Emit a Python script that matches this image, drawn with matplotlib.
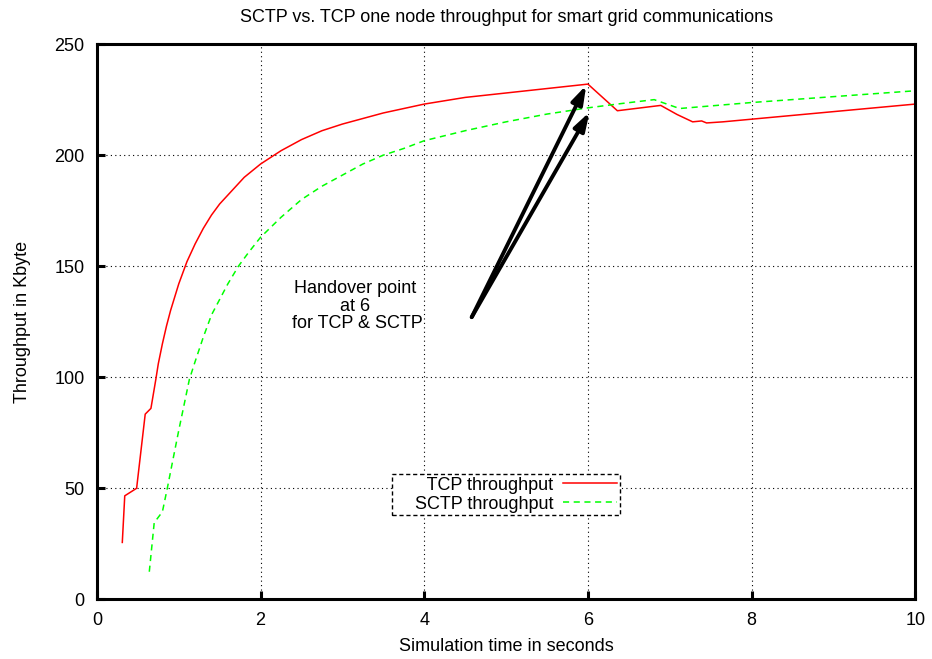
import matplotlib
matplotlib.use('Agg')
import matplotlib.pyplot as plt

plt.rcParams['font.family'] = ['Liberation Sans', 'DejaVu Sans']

# TCP throughput
tcp_t = [0.31, 0.34, 0.485, 0.59, 0.66, 0.72, 0.75, 0.8, 0.85, 0.9, 0.95, 1.0,
         1.1, 1.2, 1.3, 1.4, 1.5, 1.6, 1.8, 2.0, 2.25, 2.5, 2.75, 3.0, 3.5,
         4.0, 4.5, 5.0, 5.5, 6.0, 6.36, 6.89, 7.09, 7.28, 7.39, 7.45, 7.65, 10.0]
tcp_kb = [25.5, 46.5, 49.9, 83.3, 85.9, 99, 106, 115, 123, 130, 136, 142,
          152, 160, 167, 173, 178, 182, 190, 196, 202, 207, 211, 214, 219,
          223, 226, 228, 230, 232, 220, 222.4, 218.3, 215, 215.4, 214.5, 215, 223]

# SCTP throughput
sctp_t = [0.64, 0.70, 0.80, 0.86, 0.93, 1.0, 1.13, 1.2, 1.3, 1.4, 1.5, 1.6,
          1.73, 1.85, 2.0, 2.25, 2.5, 2.75, 3.0, 3.25, 3.5, 3.75, 4.0, 4.5,
          5.0, 5.5, 6.0, 6.4, 6.81, 7.12, 8.0, 10.0]
sctp_kb = [12.3, 34.4, 39.3, 49.9, 63, 76, 99, 107, 118, 128, 135, 142,
           150, 156, 163, 172, 180, 186, 191, 196, 200, 203, 206.5, 211,
           215, 218.5, 221.3, 223.2, 225, 221, 223.7, 229]

fig = plt.figure(figsize=(9.32, 6.59), dpi=100)
ax = fig.add_axes([0.104, 0.091, 0.878, 0.842])

# leading spaces only widen the legend box on the left like gnuplot does
ax.plot(tcp_t, tcp_kb, color='#ff0000', lw=1.1, label='    TCP throughput')
ax.plot(sctp_t, sctp_kb, color='#00ff00', lw=1.1, ls=(0, (4, 3)),
        label='    SCTP throughput')

ax.set_xlim(0, 10)
ax.set_ylim(0, 250)
ax.set_xticks([0, 2, 4, 6, 8, 10])
ax.set_yticks([0, 50, 100, 150, 200, 250])
ax.grid(True, color='black', ls=(0, (1, 3)), lw=0.8)
ax.tick_params(direction='in', length=6, width=2.2, labelsize=13, pad=9)
for s in ax.spines.values():
    s.set_linewidth(2.2)

ax.set_title('SCTP vs. TCP one node throughput for smart grid communications',
             fontsize=13, pad=16)
ax.set_xlabel('Simulation time in seconds', fontsize=13, labelpad=7)
ax.set_ylabel('Throughput in Kbyte', fontsize=13, labelpad=17)

# handover annotation
ax.text(3.15, 132, 'Handover point\nat 6\n for TCP & SCTP', fontsize=13,
        ha='center', va='center', linespacing=1.05)
for end in [(5.98, 231.5), (6.02, 219.4)]:
    ax.annotate('', xy=end, xytext=(4.58, 127),
                arrowprops=dict(arrowstyle='-|>,head_length=1.1,head_width=0.35',
                                color='black', lw=2.8, shrinkA=0, shrinkB=0))

leg = ax.legend(loc='center', bbox_to_anchor=(0.5, 0.188), fontsize=13,
                markerfirst=False, fancybox=False, framealpha=1,
                handlelength=3.0, borderpad=0.15, labelspacing=0.1,
                handletextpad=0.55, borderaxespad=0)
leg.get_frame().set_edgecolor('black')
leg.get_frame().set_linestyle((0, (3, 2)))
leg.get_frame().set_linewidth(1.0)
for t in leg.get_texts():
    t.set_ha('right')

fig.savefig('out.png', dpi=100)
